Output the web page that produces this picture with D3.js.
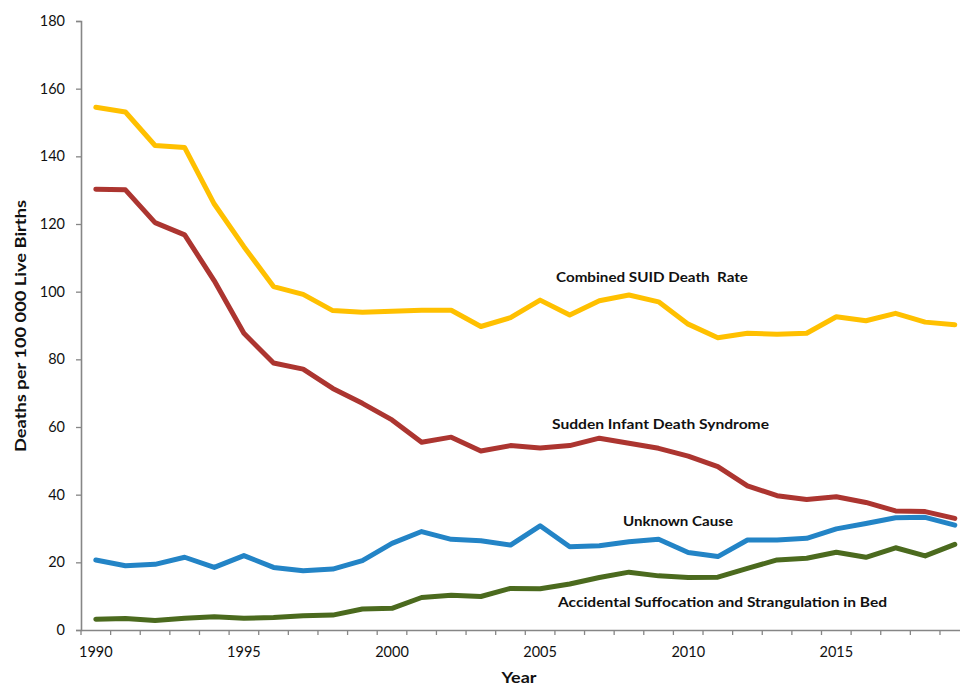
<!DOCTYPE html>
<html><head><meta charset="utf-8">
<script src="https://cdn.jsdelivr.net/npm/d3@7"></script>
<style>body{margin:0;background:#fff}svg{display:block}text{font-family:Lato,"Open Sans",sans-serif}</style>
</head><body>
<svg id="c" width="960" height="686"></svg>
<script>
const years = d3.range(1990, 2020);
const combinedSUID = [154.5,153.1,143.2,142.6,125.9,113.3,101.5,99.2,94.4,93.9,94.2,94.5,94.5,89.7,92.3,97.5,93.1,97.3,99.0,97.0,90.4,86.4,87.7,87.4,87.7,92.6,91.4,93.6,91.0,90.2];
const sids = [130.3,130.1,120.4,116.8,103.2,87.7,78.9,77.1,71.4,67.0,62.1,55.5,57.0,52.9,54.5,53.8,54.5,56.7,55.2,53.7,51.4,48.3,42.6,39.7,38.6,39.4,37.7,35.2,35.0,33.0];
const unknownCause = [20.7,19.0,19.4,21.5,18.5,22.0,18.5,17.5,18.0,20.5,25.6,29.1,26.8,26.4,25.1,30.8,24.6,24.9,26.1,26.8,22.9,21.7,26.6,26.6,27.1,29.9,31.5,33.2,33.3,31.0];
const suffocation = [3.2,3.4,2.8,3.5,3.9,3.5,3.7,4.2,4.4,6.2,6.4,9.6,10.3,9.9,12.3,12.2,13.6,15.5,17.1,16.0,15.5,15.6,18.2,20.7,21.2,23.0,21.5,24.3,21.9,25.3];
const yTicks = [0,20,40,60,80,100,120,140,160,180];
const xLabelYears = [1990,1995,2000,2005,2010,2015];
const seriesNames = ["Combined SUID Death  Rate","Sudden Infant Death Syndrome","Unknown Cause","Accidental Suffocation and Strangulation in Bed"];
const seriesColors = ["#FFC000","#AC3530","#2384C6","#4B6A1E"];
const seriesValues = [combinedSUID, sids, unknownCause, suffocation];

(function(){
const svg = d3.select("#c");
const mLeft = 81, mBottom = 630, mTop = 21, step = 29.62;
const x = d3.scaleBand().domain(years).range([mLeft, mLeft + step*years.length]).padding(0);
const y = d3.scaleLinear().domain([0,180]).range([mBottom, mTop]);
const axisColor = "#868686";

// y axis
const ya = svg.append("g").attr("transform",`translate(${mLeft},0)`)
  .call(d3.axisLeft(y).tickValues(yTicks).tickSize(5).tickPadding(11).tickFormat(d3.format("d")));
ya.select(".domain").attr("stroke",axisColor).attr("stroke-width",1.6);
ya.selectAll(".tick line").attr("stroke",axisColor).attr("stroke-width",1.3);
ya.selectAll(".tick text").attr("font-size",14.5).attr("fill","#111").attr("font-family","Lato,sans-serif");

// x axis
const xa = svg.append("g").attr("transform",`translate(0,${mBottom})`)
  .call(d3.axisBottom(x).tickSize(0).tickPadding(17).tickFormat(d => xLabelYears.includes(d) ? d : ""));
xa.select(".domain").attr("stroke",axisColor).attr("stroke-width",1.6);
xa.selectAll(".tick text").attr("font-size",14.5).attr("fill","#111").attr("font-family","Lato,sans-serif");
xa.selectAll(".bnd").data(years.concat([2020])).join("line").attr("class","bnd")
  .attr("x1", d => d===2020 ? x(2019)+x.bandwidth() : x(d))
  .attr("x2", d => d===2020 ? x(2019)+x.bandwidth() : x(d))
  .attr("y1",0).attr("y2",5).attr("stroke",axisColor).attr("stroke-width",1.3);

// lines
const line = d3.line().x((d,i) => x(years[i]) + x.bandwidth()/2).y(d => y(d)).curve(d3.curveLinear);
seriesValues.forEach((vals, k) => {
  svg.append("path").datum(vals).attr("d", line).attr("fill","none")
    .attr("stroke", seriesColors[k]).attr("stroke-width",5).attr("stroke-linejoin","round").attr("stroke-linecap","round");
});

// series labels
const labelPos = [[556,277,192],[552,424,217],[623,521,110],[558,602,329]];
seriesNames.forEach((n,k) => {
  svg.append("text").attr("x",labelPos[k][0]).attr("y",labelPos[k][1]).attr("dy","0.35em")
    .attr("font-size",14).attr("font-weight","bold").attr("fill","#111")
    .attr("textLength",labelPos[k][2]).attr("lengthAdjust","spacingAndGlyphs")
    .style("white-space","pre").text(n);
});

// axis titles
svg.append("text").attr("transform","translate(20,326) rotate(-90)").attr("text-anchor","middle").attr("dy","0.35em")
  .attr("font-size",16).attr("font-weight","bold").attr("fill","#111")
  .attr("textLength",252).attr("lengthAdjust","spacingAndGlyphs").text("Deaths per 100 000 Live Births");
svg.append("text").attr("x",519).attr("y",683).attr("text-anchor","middle")
  .attr("font-size",16).attr("font-weight","bold").attr("fill","#111")
  .attr("textLength",35).attr("lengthAdjust","spacingAndGlyphs").text("Year");
})();
</script>
</body></html>
